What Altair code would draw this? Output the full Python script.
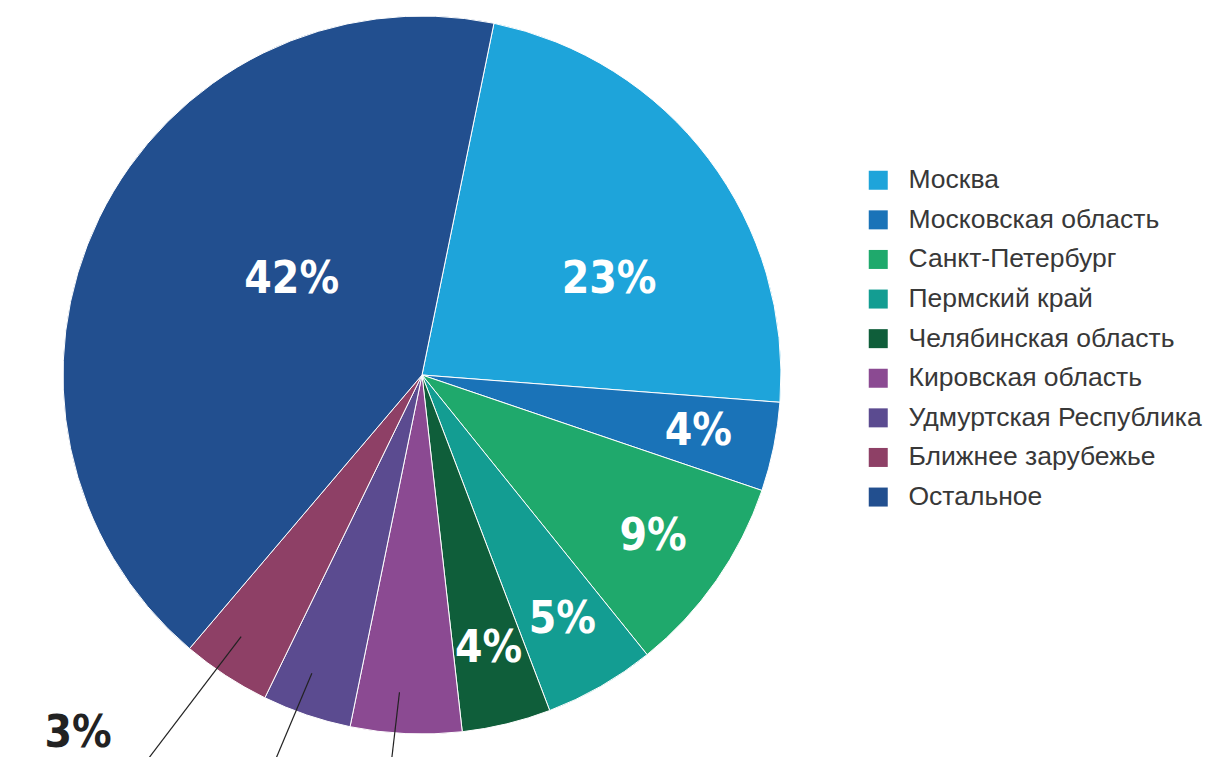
import math
import altair as alt
import pandas as pd

categories = ["Москва", "Московская область", "Санкт-Петербург", "Пермский край",
              "Челябинская область", "Кировская область", "Удмуртская Республика",
              "Ближнее зарубежье", "Остальное"]
values = [23, 4, 9, 5, 4, 5, 4, 4, 42]
labels = ["23%", "4%", "9%", "5%", "4%", "", "", "3%", "42%"]
colors = ["#1EA4DA", "#1A73B8", "#1FA96C", "#139D92", "#0F5E3A",
          "#8B4A92", "#5B4B90", "#8E4066", "#224F8F"]
outside_cats = ["Кировская область", "Удмуртская Республика", "Ближнее зарубежье"]

df = pd.DataFrame({
    "category": categories,
    "value": values,
    "label": labels,
    "order": list(range(len(categories))),
    "outside": [c in outside_cats for c in categories],
})

OFF = 0.2018          # start angle of first slice (radians)
CX, CY, R = 414, 367, 359
LABEL_FONT = "DejaVu Sans Condensed, DejaVu Sans, sans-serif"

base = (
    alt.Chart(df)
    .transform_joinaggregate(total="sum(value)")
    .transform_window(cum="sum(value)", sort=[alt.SortField("order")], frame=[None, 0])
    .transform_calculate(mid=f"{OFF} + 2*PI*(datum.cum - datum.value/2)/datum.total")
)

pie = alt.Chart(df).mark_arc(outerRadius=R, stroke="white", strokeWidth=1).encode(
    theta=alt.Theta("value:Q", stack=True,
                    scale=alt.Scale(range=[OFF, OFF + 2 * math.pi])),
    color=alt.Color(
        "category:N",
        scale=alt.Scale(domain=categories, range=colors),
        sort=categories,
        legend=alt.Legend(
            orient="none", legendX=857, legendY=159, title=None,
            symbolType="square", symbolSize=361, symbolStrokeWidth=0,
            labelFontSize=26.5, labelFont="Liberation Sans", labelColor="#383838",
            labelOffset=17, rowPadding=12.6, padding=0, labelLimit=400,
        ),
    ),
    order=alt.Order("order:Q"),
    x=alt.value(CX),
    y=alt.value(CY),
)

inside = (
    base.transform_filter("!datum.outside")
    .transform_calculate(
        a="datum.mid + (datum.value >= 15 ? 10*PI/180 : 0)",
        r="datum.value >= 30 ? 161 : (datum.value >= 15 ? 210 : 282)",
    )
    .transform_calculate(
        px=f"{CX} + datum.r*sin(datum.a)",
        py=f"{CY} - datum.r*cos(datum.a)",
    )
    .mark_text(font=LABEL_FONT, fontWeight="bold", fontSize=44,
               color="white", align="center", baseline="middle")
    .encode(x=alt.X("px:Q", scale=None), y=alt.Y("py:Q", scale=None), text="label:N")
)

rules = (
    base.transform_filter("datum.outside")
    .transform_calculate(
        a1="datum.mid + 1.5*PI/180",
        a2="datum.mid + 2.5*PI/180",
    )
    .transform_calculate(
        x1=f"{CX} + 318*sin(datum.a1)",
        y1=f"{CY} - 318*cos(datum.a1)",
        x2=f"{CX} + 520*sin(datum.a2)",
        y2=f"{CY} - 520*cos(datum.a2)",
    )
    .mark_rule(color="#222222", strokeWidth=1.2)
    .encode(x=alt.X("x1:Q", scale=None), y=alt.Y("y1:Q", scale=None),
            x2="x2:Q", y2="y2:Q")
)

outside_text = (
    base.transform_filter("datum.outside && datum.label != ''")
    .transform_calculate(a="datum.mid + 1.5*PI/180")
    .transform_calculate(
        px=f"{CX} + 440*sin(datum.a) - 60",
        py=f"{CY} - 440*cos(datum.a) + 10",
    )
    .mark_text(font=LABEL_FONT, fontWeight="bold", fontSize=44,
               color="#222222", align="right", baseline="alphabetic")
    .encode(x=alt.X("px:Q", scale=None), y=alt.Y("py:Q", scale=None), text="label:N")
)

chart = (
    alt.layer(pie, inside, rules, outside_text)
    .properties(width=1201, height=749, padding=0,
                autosize=alt.AutoSizeParams(type="none"))
    .configure_view(stroke=None)
)

chart.save("out.html", embed_options={"renderer": "svg", "actions": False})
